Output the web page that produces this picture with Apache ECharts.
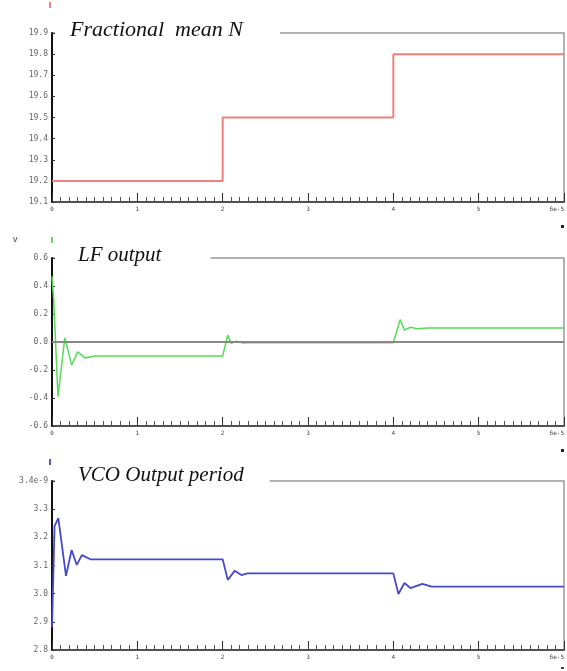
<!DOCTYPE html>
<html>
<head>
    <meta charset="UTF-8">
    <style>
        html, body { margin: 0; padding: 0; background: #fff; }
        #chart { width: 567px; height: 671px; }
    </style>
    <script src="https://cdn.jsdelivr.net/npm/echarts@6/dist/echarts.min.js"></script>
</head>
<body>
    <div id="chart"></div>
    <script>
        // time in units of 1e-5 s
        var nTime = [0, 2, 4, 6];
        var nValue = [19.2, 19.5, 19.8, 19.8];

        var lfTime = [0, 0.02, 0.07, 0.15, 0.23, 0.30, 0.39, 0.5, 2.0, 2.06, 2.1, 2.16, 2.24, 2.35, 4.0, 4.08, 4.13, 4.2, 4.28, 4.4, 6];
        var lfValue = [0.47, 0.30, -0.39, 0.03, -0.165, -0.07, -0.115, -0.1, -0.1, 0.05, -0.01, 0.005, -0.008, -0.004, -0.005, 0.16, 0.085, 0.105, 0.095, 0.1, 0.1];

        // VCO period in units of 1e-9 s
        var vcoTime = [0, 0.03, 0.074, 0.164, 0.23, 0.29, 0.35, 0.45, 2.0, 2.06, 2.14, 2.22, 2.29, 4.0, 4.06, 4.13, 4.2, 4.34, 4.45, 6];
        var vcoValue = [2.88, 3.24, 3.268, 3.063, 3.155, 3.102, 3.137, 3.122, 3.122, 3.049, 3.081, 3.066, 3.072, 3.072, 2.999, 3.038, 3.020, 3.035, 3.025, 3.025];

        var xTickLabels = ['0', '1', '2', '3', '4', '5', '6e-5'];

        function pairs(t, v) {
            return t.map(function (x, i) { return [x, v[i]]; });
        }

        var chart = echarts.init(document.getElementById('chart'));

        var grids = [
            { left: 52, right: 2, top: 33, height: 169 },
            { left: 52, right: 2, top: 258, height: 168 },
            { left: 52, right: 2, top: 481, height: 169 }
        ];
        grids.forEach(function (g) {
            g.show = true;
            g.borderColor = '#999';
            g.borderWidth = 1.5;
            g.backgroundColor = 'transparent';
        });

        function xAxisFor(i) {
            return {
                type: 'value', gridIndex: i, min: 0, max: 6, interval: 1,
                axisLine: { onZero: false, lineStyle: { color: '#333', width: 1.5 } },
                axisTick: { inside: true, length: 9, lineStyle: { color: '#333' } },
                minorTick: { show: true, splitNumber: 10, length: 5, lineStyle: { color: '#555' } },
                splitLine: { show: false },
                axisLabel: {
                    fontSize: 6, color: '#444', margin: 4,
                    fontFamily: 'DejaVu Sans Mono',
                    alignMaxLabel: 'right',
                    formatter: function (v) { return xTickLabels[Math.round(v)]; }
                }
            };
        }

        function yAxisFor(i, min, max, interval, fmt) {
            return {
                type: 'value', gridIndex: i, min: min, max: max, interval: interval,
                axisLine: { show: true, onZero: false, lineStyle: { color: '#111', width: 2 } },
                axisTick: { show: true, inside: true, length: 3, lineStyle: { color: '#333' } },
                splitLine: { show: false },
                axisLabel: { fontSize: 8, fontFamily: 'DejaVu Sans Mono', color: '#666', margin: 4, formatter: fmt }
            };
        }

        function titleStyle(size) {
            return { fontFamily: 'Liberation Serif', fontStyle: 'italic', fontWeight: 'normal', fontSize: size, color: '#111' };
        }

        chart.setOption({
            animation: false,
            backgroundColor: '#fff',
            title: [
                { text: 'Fractional  mean N', left: 55, top: 16, padding: [3, 37, 3, 15], backgroundColor: '#fff', textStyle: titleStyle(22) },
                { text: 'LF output', left: 55, top: 242, padding: [3, 49, 3, 23], backgroundColor: '#fff', textStyle: titleStyle(21) },
                { text: 'VCO Output period', left: 55, top: 462, padding: [3, 26, 3, 23], backgroundColor: '#fff', textStyle: titleStyle(21) }
            ],
            grid: grids,
            xAxis: [xAxisFor(0), xAxisFor(1), xAxisFor(2)],
            yAxis: [
                yAxisFor(0, 19.1, 19.9, 0.1, function (v) { return v.toFixed(1); }),
                yAxisFor(1, -0.6, 0.6, 0.2, function (v) { return v.toFixed(1); }),
                yAxisFor(2, 2.8, 3.4, 0.1, function (v) { return Math.abs(v - 3.4) < 1e-6 ? '3.4e-9' : v.toFixed(1); })
            ],
            graphic: [
                { type: 'rect', shape: { x: 49, y: 2, width: 2, height: 6 }, style: { fill: '#f08080' } },
                { type: 'text', left: 13, top: 235, style: { text: 'v', fontSize: 9, fill: '#444' } },
                { type: 'rect', shape: { x: 51, y: 237, width: 2, height: 6 }, style: { fill: '#66dd66' } },
                { type: 'rect', shape: { x: 49, y: 459, width: 2, height: 6 }, style: { fill: '#5555cc' } },
                { type: 'rect', shape: { x: 561, y: 225, width: 3, height: 3 }, style: { fill: '#222' } },
                { type: 'rect', shape: { x: 561, y: 449, width: 3, height: 3 }, style: { fill: '#222' } },
                { type: 'rect', shape: { x: 561, y: 667, width: 3, height: 2 }, style: { fill: '#444' } }
            ],
            series: [
                {
                    type: 'line', xAxisIndex: 0, yAxisIndex: 0, step: 'end', showSymbol: false,
                    lineStyle: { color: '#ee8080', width: 2 },
                    data: pairs(nTime, nValue)
                },
                {
                    type: 'line', xAxisIndex: 1, yAxisIndex: 1, showSymbol: false,
                    lineStyle: { color: '#55dd55', width: 1.5 },
                    data: pairs(lfTime, lfValue),
                    markLine: {
                        silent: true, symbol: 'none', label: { show: false },
                        lineStyle: { color: '#888', width: 2, type: 'solid' },
                        data: [{ yAxis: 0 }]
                    },
                    z: 3
                },
                {
                    type: 'line', xAxisIndex: 2, yAxisIndex: 2, showSymbol: false,
                    lineStyle: { color: '#4848cc', width: 1.8 },
                    data: pairs(vcoTime, vcoValue)
                }
            ]
        });
    </script>
</body>
</html>
